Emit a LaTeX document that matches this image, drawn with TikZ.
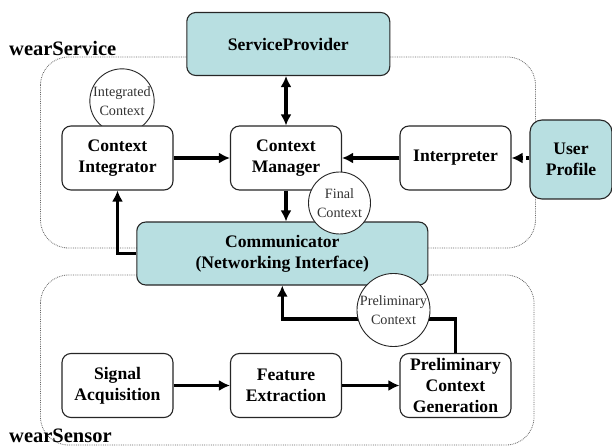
\documentclass[tikz,border=0pt]{standalone}
\usepackage{fontspec}
\setmainfont{Liberation Serif}
\usetikzlibrary{arrows.meta,positioning}
\definecolor{commteal}{RGB}{184,223,225}
\colorlet{regiongray}{black!60}
\newcommand{\boxwd}{111pt}
\newcommand{\boxht}{64pt}
\tikzset{
    boxsty/.style={draw=black!85,line width=1.1pt,fill=white,rectangle,rounded corners=9pt,minimum width=\boxwd,minimum height=\boxht,align=center,inner sep=2pt,font=\fontsize{17.6}{21}\selectfont\bfseries},
    tealsty/.style={boxsty,fill=commteal},
    ctxsty/.style={draw=black!85,line width=0.9pt,fill=white,circle,minimum size=62pt,inner sep=0pt,align=center,text=black!80,font=\fontsize{14.2}{19}\selectfont},
    regionsty/.style={draw=regiongray,line width=0.8pt,densely dotted,rounded corners=28pt},
    labelsty/.style={anchor=base west,inner sep=0pt,font=\fontsize{20.5}{24}\selectfont\bfseries},
    flowsty/.style={line width=3.5pt,-{Latex[length=11pt,width=11pt]}},
    biflowsty/.style={line width=3.5pt,{Latex[length=11pt,width=11pt]}-{Latex[length=11pt,width=11pt]}},
    dotflowsty/.style={flowsty,dash pattern=on 3pt off 3pt},
}

\begin{document}
\begin{tikzpicture}[x=1pt,y=-1pt]
  \useasboundingbox (0,0) rectangle (612,446);

  \draw[regionsty] (40.5,57) rectangle (535.5,248);
  \draw[regionsty] (40.5,275) rectangle (534,445);
  \node[labelsty] (svclbl) at (9,56) {wearService};
  \node[labelsty] (snslbl) at (9,442) {wearSensor};

  \node[ctxsty] (intctx) at (122,101) {Integrated\\Context};

  \node[tealsty,minimum width=203pt,minimum height=63pt] (sp) at (288.3,44) {ServiceProvider};
  \node[boxsty] (ci) at (117.5,158) {Context\\Integrator};
  \node[boxsty] (cm) at (286,158) {Context\\Manager};
  \node[boxsty] (ip) at (455.5,158) {Interpreter};
  \node[tealsty,minimum width=82pt,minimum height=79pt,rounded corners=12pt] (up) at (571,159.5) {User\\Profile};
  \node[tealsty,minimum width=291pt,minimum height=63pt] (comm) at (282.3,253.5) {Communicator\\(Networking Interface)};
  \node[boxsty] (sa) at (117.5,385.5) {Signal\\Acquisition};
  \node[boxsty] (fe) at (286,385.5) {Feature\\Extraction};
  \node[boxsty] (pcg) at (455.5,385.5) {Preliminary\\Context\\Generation};

  \draw[biflowsty] (sp.south -| cm.north) -- (cm.north);
  \draw[flowsty] (ci.east) -- (cm.west);
  \draw[flowsty] (ip.west) -- (cm.east);
  \draw[dotflowsty] (up.west |- ip.east) -- (ip.east);
  \draw[flowsty] (cm.south) -- (cm.south |- comm.north);
  \draw[flowsty] (comm.west) -| (ci.south);
  \draw[flowsty] (sa.east) -- (fe.west);
  \draw[flowsty] (fe.east) -- (pcg.west);
  \draw[flowsty] (pcg.north) -- ++(0,-34) -| (comm.south);

  \node[ctxsty] (finctx) at (339.5,203) {Final\\Context};
  \node[ctxsty,minimum size=64pt] (prectx) at (393.5,310) {Preliminary\\Context};
\end{tikzpicture}
\end{document}
